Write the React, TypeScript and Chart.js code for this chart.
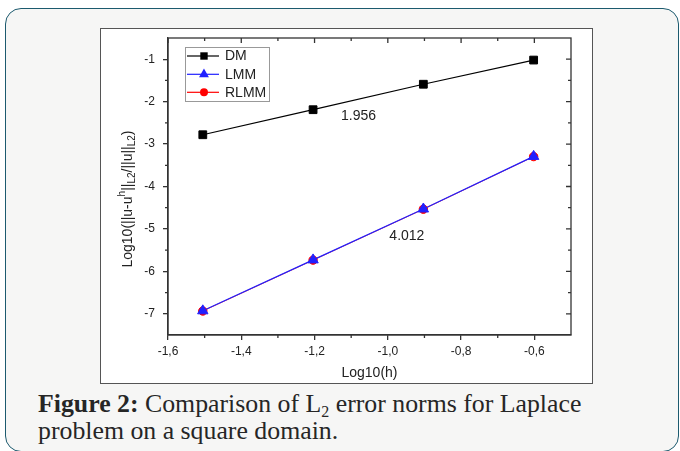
import React, { useEffect, useRef } from 'react';
import { Chart, registerables } from 'chart.js';

Chart.register(...registerables);

// ---- data ----
const xValues = [-1.505, -1.204, -0.903, -0.602];
const dmValues = [-2.78, -2.19, -1.59, -1.02];
const lmmValues = [-6.93, -5.73, -4.53, -3.29];
const rlmmValues = [-6.935, -5.735, -4.535, -3.295];
const seriesNames = ['DM', 'LMM', 'RLMM'];

const xTicks = [-1.6, -1.4, -1.2, -1.0, -0.8, -0.6];
const xMinorTicks = [-1.5, -1.3, -1.1, -0.9, -0.7];
const yTicks = [-1, -2, -3, -4, -5, -6, -7];
const yMinorTicks = [-1.5, -2.5, -3.5, -4.5, -5.5, -6.5];

const slopeLabels = ['1.956', '4.012'];
const slopeX = [-1.08, -0.948];
const slopeY = [-2.35, -5.16];

const xTitle = 'Log10(h)';

// ---- styles ----
const SANS = "'Liberation Sans', Arial, sans-serif";
const AXIS = '#333333';
const TEXT = '#222222';
const colors = ['#000000', '#2020ff', '#ff0000'];
const styles = ['rect', 'triangle', 'circle'];
const radii = [5.5, 6, 4.2];
const lineWidths = [1.2, 1.2, 0.8];

function drawMarker(ctx: CanvasRenderingContext2D, style: string, x: number, y: number, r: number) {
  ctx.beginPath();
  if (style === 'rect') {
    const s = Math.SQRT1_2 * r;
    ctx.rect(x - s, y - s, 2 * s, 2 * s);
  } else if (style === 'triangle') {
    let rad = 0;
    ctx.moveTo(x + Math.sin(rad) * r, y - Math.cos(rad) * r);
    rad += (2 * Math.PI) / 3;
    ctx.lineTo(x + Math.sin(rad) * r, y - Math.cos(rad) * r);
    rad += (2 * Math.PI) / 3;
    ctx.lineTo(x + Math.sin(rad) * r, y - Math.cos(rad) * r);
    ctx.closePath();
  } else {
    ctx.arc(x, y, r, 0, Math.PI * 2);
  }
  ctx.fill();
}

const framePlugin = {
  id: 'frame',
  afterDraw(chart: any) {
    const { ctx, chartArea: a, scales } = chart;
    const xs = scales.x;
    const ys = scales.y;
    ctx.save();
    // frame
    ctx.strokeStyle = AXIS;
    ctx.lineWidth = 1.3;
    ctx.strokeRect(a.left, a.top, a.right - a.left, a.bottom - a.top);
    // ticks
    ctx.beginPath();
    for (const v of xTicks) {
      const px = xs.getPixelForValue(v);
      ctx.moveTo(px, a.top);
      ctx.lineTo(px, a.top + 5);
    }
    for (const v of xMinorTicks) {
      const px = xs.getPixelForValue(v);
      ctx.moveTo(px, a.top);
      ctx.lineTo(px, a.top + 3);
      ctx.moveTo(px, a.bottom);
      ctx.lineTo(px, a.bottom + 3);
    }
    for (const v of yTicks) {
      const py = ys.getPixelForValue(v);
      ctx.moveTo(a.right, py);
      ctx.lineTo(a.right - 5, py);
    }
    for (const v of yMinorTicks) {
      const py = ys.getPixelForValue(v);
      ctx.moveTo(a.right, py);
      ctx.lineTo(a.right - 3, py);
      ctx.moveTo(a.left, py);
      ctx.lineTo(a.left - 3, py);
    }
    ctx.stroke();

    // slope annotations
    ctx.fillStyle = TEXT;
    ctx.font = `14px ${SANS}`;
    ctx.textAlign = 'center';
    ctx.textBaseline = 'middle';
    slopeLabels.forEach((t, i) => {
      ctx.fillText(t, xs.getPixelForValue(slopeX[i]), ys.getPixelForValue(slopeY[i]));
    });

    // x title
    ctx.fillText(xTitle, (a.left + a.right) / 2, 344);

    // y title (rich text, rotated)
    const segs = [
      { t: 'Log10(||u-u', k: 'n' },
      { t: 'h', k: 'sup' },
      { t: '||', k: 'n' },
      { t: 'L2', k: 'sub' },
      { t: '/||u||', k: 'n' },
      { t: 'L2', k: 'sub' },
      { t: ')', k: 'n' },
    ];
    const fontFor = (k: string) => (k === 'n' ? `14px ${SANS}` : `10px ${SANS}`);
    let total = 0;
    for (const s of segs) {
      ctx.font = fontFor(s.k);
      total += ctx.measureText(s.t).width;
    }
    ctx.save();
    ctx.translate(27, 170);
    ctx.rotate(-Math.PI / 2);
    ctx.textAlign = 'left';
    ctx.textBaseline = 'middle';
    let cx = -total / 2;
    for (const s of segs) {
      ctx.font = fontFor(s.k);
      const dy = s.k === 'sup' ? -6 : s.k === 'sub' ? 4 : 0;
      ctx.fillText(s.t, cx, dy);
      cx += ctx.measureText(s.t).width;
    }
    ctx.restore();

    // legend
    const lx = 84, ly = 18, lw = 84, lh = 54;
    ctx.fillStyle = '#ffffff';
    ctx.fillRect(lx, ly, lw, lh);
    ctx.strokeStyle = '#999999';
    ctx.lineWidth = 1;
    ctx.strokeRect(lx + 0.5, ly + 0.5, lw, lh);
    const rows = [27, 45.3, 63.3];
    seriesNames.forEach((name, i) => {
      const y = rows[i];
      ctx.strokeStyle = colors[i];
      ctx.lineWidth = 1.2;
      ctx.beginPath();
      ctx.moveTo(86, y);
      ctx.lineTo(118, y);
      ctx.stroke();
      ctx.fillStyle = colors[i];
      drawMarker(ctx, styles[i], 103, y, radii[i] * 0.95);
      ctx.fillStyle = TEXT;
      ctx.font = `14px ${SANS}`;
      ctx.textAlign = 'left';
      ctx.textBaseline = 'middle';
      ctx.fillText(name, 124, y + 0.5);
    });
    ctx.restore();
  },
};

export default function App() {
  const ref = useRef<HTMLCanvasElement>(null);

  useEffect(() => {
    const series = [dmValues, lmmValues, rlmmValues];
    const chart = new Chart(ref.current as HTMLCanvasElement, {
      type: 'line',
      data: {
        datasets: series.map((vals, i) => ({
          label: seriesNames[i],
          data: vals.map((v, j) => ({ x: xValues[j], y: v })),
          borderColor: colors[i],
          backgroundColor: colors[i],
          pointBackgroundColor: colors[i],
          pointBorderColor: colors[i],
          pointBorderWidth: 1,
          borderWidth: lineWidths[i],
          pointStyle: styles[i] as any,
          pointRadius: radii[i],
          tension: 0,
          fill: false,
        })),
      },
      options: {
        responsive: false,
        maintainAspectRatio: false,
        devicePixelRatio: 1,
        animation: false,
        layout: { padding: { left: 0, right: 21, top: 9, bottom: 0 } },
        plugins: { legend: { display: false }, tooltip: { enabled: false } },
        scales: {
          x: {
            type: 'linear',
            min: -1.6,
            max: -0.5,
            afterBuildTicks: (s: any) => {
              s.ticks = xTicks.map((v) => ({ value: v }));
            },
            afterFit: (s: any) => {
              s.height = 48;
              s.paddingLeft = 0;
              s.paddingRight = 0;
            },
            ticks: {
              color: TEXT,
              font: { family: SANS, size: 12 },
              padding: 4,
              maxRotation: 0,
              autoSkip: false,
              callback: (v: any) => Number(v).toFixed(1).replace('.', ','),
            },
            grid: { drawOnChartArea: false, drawTicks: true, tickLength: 5, color: AXIS, lineWidth: 1.3 },
            border: { display: true, color: AXIS, width: 1.3 },
          },
          y: {
            type: 'linear',
            min: -7.5,
            max: -0.5,
            afterBuildTicks: (s: any) => {
              s.ticks = yTicks.map((v) => ({ value: v }));
            },
            afterFit: (s: any) => {
              s.width = 67;
              s.paddingTop = 0;
              s.paddingBottom = 0;
            },
            ticks: {
              color: TEXT,
              font: { family: SANS, size: 12 },
              padding: 8,
              autoSkip: false,
              callback: (v: any) => String(v),
            },
            grid: { drawOnChartArea: false, drawTicks: true, tickLength: 5, color: AXIS, lineWidth: 1.3 },
            border: { display: true, color: AXIS, width: 1.3 },
          },
        },
      },
      plugins: [framePlugin],
    });
    return () => chart.destroy();
  }, []);

  return (
    <div style={{ position: 'fixed', left: 0, top: 0, width: 680, height: 451, overflow: 'hidden', background: '#ffffff' }}>
      <div
        style={{
          position: 'absolute',
          left: 5,
          top: 8,
          width: 674,
          height: 444,
          boxSizing: 'border-box',
          border: '1.5px solid #1c5a6e',
          borderRadius: 16,
          background: '#f6f6f5',
        }}
      />
      <div
        style={{
          position: 'absolute',
          left: 100,
          top: 28,
          width: 493,
          height: 356,
          boxSizing: 'border-box',
          border: '1px solid #555555',
          background: '#ffffff',
        }}
      >
        <canvas ref={ref} width={491} height={354} style={{ display: 'block', width: 491, height: 354 }} />
      </div>
      <div
        style={{
          position: 'absolute',
          left: 38,
          top: 390,
          width: 630,
          fontFamily: "'Liberation Serif', 'Times New Roman', serif",
          fontSize: 25.8,
          lineHeight: '27px',
          color: '#262626',
          whiteSpace: 'nowrap',
        }}
      >
        <b>Figure 2:</b> Comparison of L
        <sub style={{ fontSize: '0.62em', lineHeight: 0, verticalAlign: '-0.3em' }}>2</sub> error norms for Laplace
        <br />
        problem on a square domain.
      </div>
    </div>
  );
}
